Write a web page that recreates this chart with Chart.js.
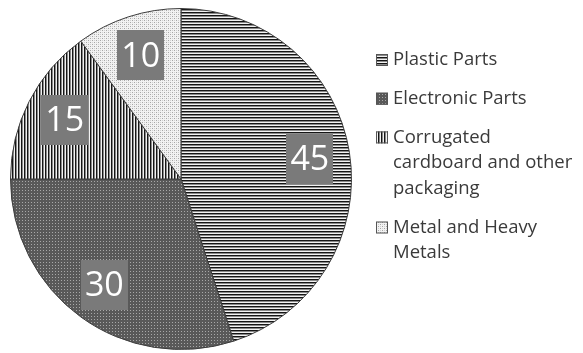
<!DOCTYPE html>
<html>
<head>
<meta charset="utf-8">
<script src="https://cdn.jsdelivr.net/npm/chart.js@4/dist/chart.umd.min.js"></script>
<style>
  html, body { margin: 0; padding: 0; background: #fff; }
</style>
</head>
<body>
<canvas id="pieChart" width="583" height="353"></canvas>
<script>
const categories = ['Plastic Parts', 'Electronic Parts', 'Corrugated cardboard and other packaging', 'Metal and Heavy Metals'];
const values = [45, 30, 15, 10];
const legendLines = [['Plastic Parts'], ['Electronic Parts'], ['Corrugated', 'cardboard and other', 'packaging'], ['Metal and Heavy', 'Metals']];

const FONT = '"Open Sans", "Liberation Sans", sans-serif';

// small tiles turned into canvas patterns, like the Excel fills
function makePattern(w, h, bg, dots) {
  const c = document.createElement('canvas');
  c.width = w; c.height = h;
  const g = c.getContext('2d');
  g.fillStyle = bg;
  g.fillRect(0, 0, w, h);
  dots.forEach(d => {
    g.fillStyle = d[4];
    g.fillRect(d[0], d[1], d[2], d[3]);
  });
  return g.createPattern(c, 'repeat');
}

const fills = [
  makePattern(3, 3, '#f2f2f2', [[0, 0, 3, 1, '#151515'], [0, 1, 3, 1, '#8a8a8a']]),
  makePattern(3, 3, '#595959', [[1, 1, 1, 1, '#a8a8a8']]),
  makePattern(3, 3, '#f2f2f2', [[0, 0, 1, 3, '#151515'], [1, 0, 1, 3, '#8a8a8a']]),
  makePattern(4, 4, '#f2f2f2', [[0, 0, 1, 1, '#a6a6a6'], [2, 2, 1, 1, '#a6a6a6'], [2, 0, 1, 1, '#d0d0d0'], [0, 2, 1, 1, '#d0d0d0']])
];

const valueBoxes = {
  id: 'valueBoxes',
  afterDatasetsDraw(chart) {
    const ctx = chart.ctx;
    const meta = chart.getDatasetMeta(0);
    ctx.save();
    ctx.font = '34px ' + FONT;
    ctx.textAlign = 'center';
    ctx.textBaseline = 'middle';
    meta.data.forEach((arc, i) => {
      const p = arc.getProps(['x', 'y', 'startAngle', 'endAngle', 'outerRadius'], true);
      const mid = (p.startAngle + p.endAngle) / 2;
      const r = p.outerRadius * 0.765;
      const cx = p.x + Math.cos(mid) * r;
      const cy = p.y + Math.sin(mid) * r;
      const txt = String(values[i]);
      const w = ctx.measureText(txt).width + 8;
      const h = 50;
      ctx.fillStyle = '#7a7a7a';
      ctx.fillRect(Math.round(cx - w / 2), Math.round(cy - h / 2), Math.round(w), h);
      ctx.fillStyle = '#ffffff';
      ctx.fillText(txt, cx, cy + 2);
    });
    ctx.restore();
  }
};

const sideLegend = {
  id: 'sideLegend',
  afterDraw(chart) {
    const ctx = chart.ctx;
    ctx.save();
    ctx.font = '18.5px ' + FONT;
    ctx.textBaseline = 'middle';
    const lineH = 25.7;
    let y = 60;
    legendLines.forEach((lines, i) => {
      ctx.fillStyle = fills[i];
      ctx.fillRect(376, y - 6, 12, 12);
      ctx.strokeStyle = '#555';
      ctx.lineWidth = 1;
      ctx.strokeRect(376.5, y - 5.5, 11, 11);
      ctx.fillStyle = '#3a3a3a';
      lines.forEach((t, j) => ctx.fillText(t, 393, y + j * lineH));
      y += lines.length * lineH + 13;
    });
    ctx.restore();
  }
};

new Chart(document.getElementById('pieChart'), {
  type: 'pie',
  data: {
    labels: categories,
    datasets: [{
      data: values,
      backgroundColor: fills,
      borderColor: '#3c3c3c',
      borderWidth: 1
    }]
  },
  options: {
    responsive: false,
    animation: false,
    layout: { padding: { left: 10, top: 8, right: 231, bottom: 3 } },
    plugins: {
      legend: { display: false },
      tooltip: { enabled: false }
    }
  },
  plugins: [valueBoxes, sideLegend]
});
</script>
</body>
</html>
